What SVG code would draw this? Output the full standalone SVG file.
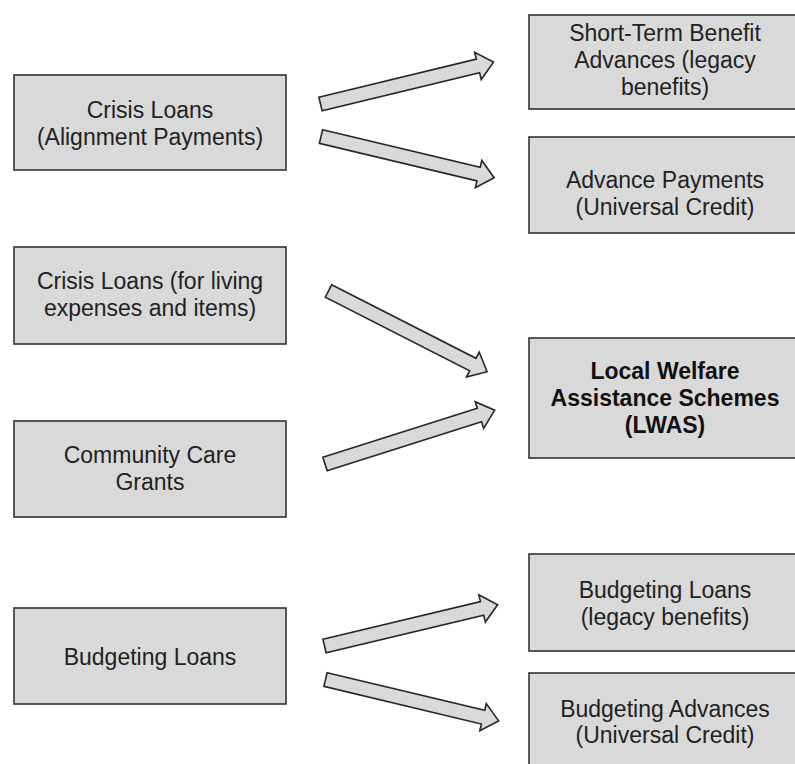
<svg xmlns="http://www.w3.org/2000/svg" xmlns:xlink="http://www.w3.org/1999/xlink" width="795" height="764" viewBox="0 0 795 764">
<style>
.box{fill:#d9d9d9;stroke:#333333;stroke-width:1.6}
.arr{fill:#d9d9d9;stroke:#262626;stroke-width:1.6;stroke-linejoin:miter}
text{font-family:"Liberation Sans",Arial,sans-serif;font-size:23px;fill:#222222;text-anchor:middle}
.b{font-weight:bold;fill:#111111}
</style>
<defs>
<polygon id="blockArrow" points="0,-7 162,-7 162,-14 178,0 162,14 162,7 0,7"/>
</defs>
<rect width="795" height="764" fill="#ffffff"/>
<g id="connectors">
<use xlink:href="#blockArrow" class="arr" transform="translate(320.5,104) rotate(-13.6)"/>
<use xlink:href="#blockArrow" class="arr" transform="translate(321,136.5) rotate(13.4)"/>
<use xlink:href="#blockArrow" class="arr" transform="translate(328.5,291) rotate(27)"/>
<use xlink:href="#blockArrow" class="arr" transform="translate(325,464) rotate(-17.6)"/>
<use xlink:href="#blockArrow" class="arr" transform="translate(324.5,646) rotate(-13.4)"/>
<use xlink:href="#blockArrow" class="arr" transform="translate(325.5,679.5) rotate(13.45)"/>
</g>
<g id="crisis-alignment">
<rect class="box" x="14" y="75" width="272" height="95"/>
<text x="150" y="118">Crisis Loans</text>
<text x="150" y="145">(Alignment Payments)</text>
</g>
<g id="crisis-living">
<rect class="box" x="14" y="247" width="272" height="97"/>
<text x="150" y="289">Crisis Loans (for living</text>
<text x="150" y="316">expenses and items)</text>
</g>
<g id="community-care">
<rect class="box" x="14" y="421" width="272" height="96"/>
<text x="150" y="463">Community Care</text>
<text x="150" y="490">Grants</text>
</g>
<g id="budgeting-loans">
<rect class="box" x="14" y="608" width="272" height="96"/>
<text x="150" y="665">Budgeting Loans</text>
</g>
<g id="short-term">
<rect class="box" x="529" y="15" width="272" height="94"/>
<text x="665" y="41">Short-Term Benefit</text>
<text x="665" y="68">Advances (legacy</text>
<text x="665" y="95">benefits)</text>
</g>
<g id="advance-payments">
<rect class="box" x="529" y="137" width="272" height="96"/>
<text x="665" y="188">Advance Payments</text>
<text x="665" y="215">(Universal Credit)</text>
</g>
<g id="lwas">
<rect class="box" x="529" y="338" width="272" height="120"/>
<text class="b" x="665" y="379">Local Welfare</text>
<text class="b" x="665" y="406">Assistance Schemes</text>
<text class="b" x="665" y="433">(LWAS)</text>
</g>
<g id="budgeting-loans-legacy">
<rect class="box" x="529" y="554" width="272" height="97"/>
<text x="665" y="598">Budgeting Loans</text>
<text x="665" y="625">(legacy benefits)</text>
</g>
<g id="budgeting-advances">
<rect class="box" x="529" y="673" width="272" height="100"/>
<text x="665" y="717">Budgeting Advances</text>
<text x="665" y="743">(Universal Credit)</text>
</g>
</svg>
